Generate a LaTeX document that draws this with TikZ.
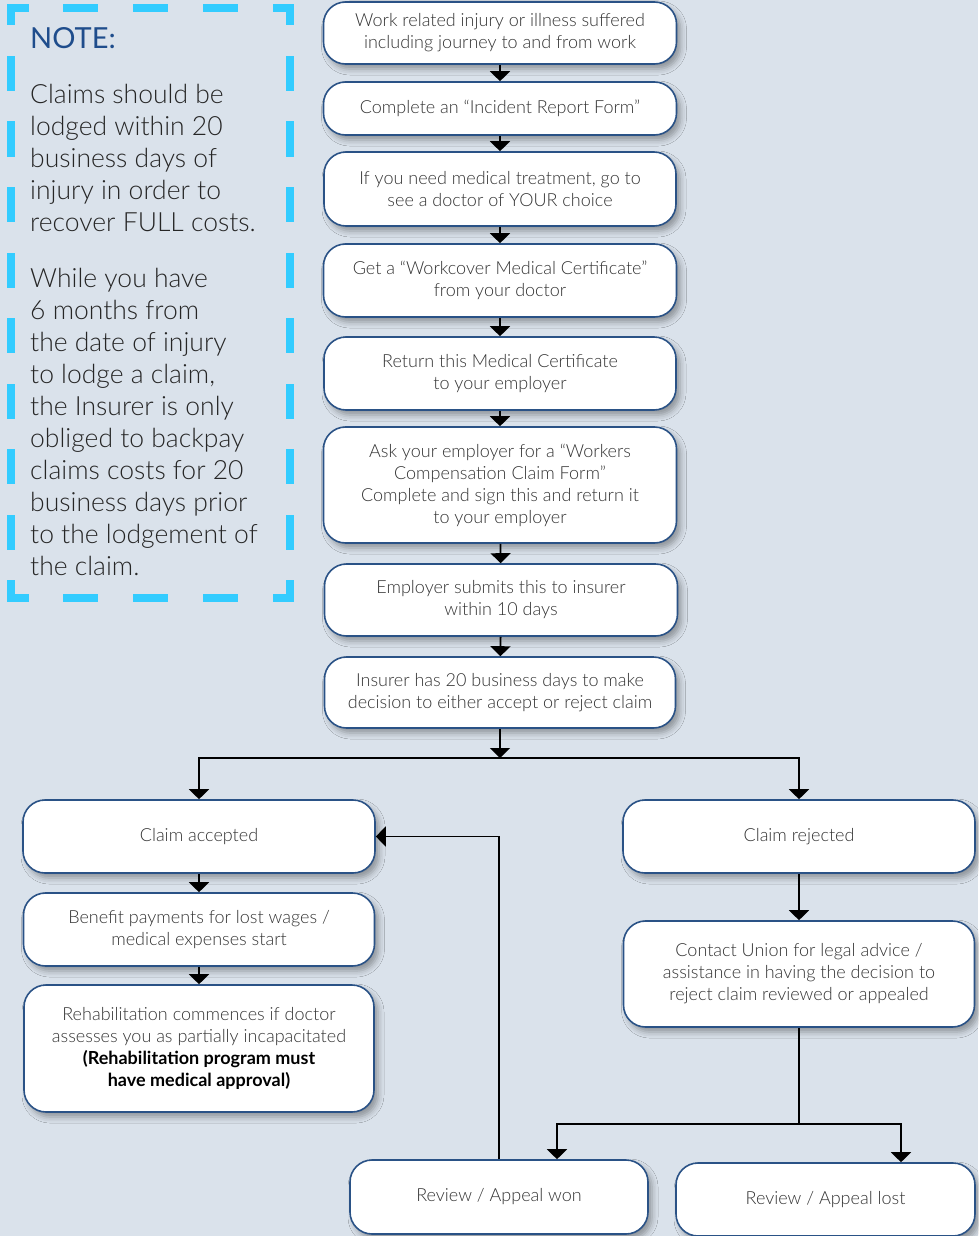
\documentclass[tikz,border=0pt]{standalone}
\usepackage{fontspec}
\setmainfont{Lato}[UprightFont=* Light,BoldFont=* Bold]
\newfontfamily\noteheadfont{Lato}
\usepackage{tikz}
\usetikzlibrary{arrows.meta,shadows.blur}
\definecolor{pagebg}{HTML}{DAE2EB}
\definecolor{boxline}{HTML}{2A5286}
\definecolor{notedash}{HTML}{33CCFF}
\definecolor{notehead}{HTML}{1F4D8C}
\definecolor{boxtext}{HTML}{333333}
\begin{document}
\begin{tikzpicture}[x=1pt,y=-1pt]
					\tikzstyle{stage}=[rectangle,rounded corners=22pt,draw=boxline,line width=1.6pt,fill=white,text=boxtext,align=center,font=\fontsize{18}{22}\selectfont,inner sep=0pt,blur shadow={shadow xshift=4pt,shadow yshift=-5pt,shadow blur radius=6pt,shadow opacity=35}]
					\tikzstyle{flow}=[line width=1.8pt,-{Triangle[width=20pt,length=10pt]}]
					\tikzstyle{flowline}=[line width=1.8pt]
					\tikzstyle{notedashes}=[draw=notedash,line width=8pt,line cap=rect]
					\tikzstyle{notetext}=[anchor=base west,inner sep=0pt,align=left,text=black!85]
					\useasboundingbox[fill=pagebg] (0,0) rectangle (978,1236);
					% note box
					\draw[notedashes,dash pattern=on 27pt off 42.75pt,dash phase=13.5pt] (11,8) -- (290,8);
					\draw[notedashes,dash pattern=on 27pt off 42.75pt,dash phase=13.5pt] (11,597.5) -- (290,597.5);
					\draw[notedashes,dash pattern=on 27pt off 38.5pt,dash phase=13.5pt] (11,8) -- (11,597.5);
					\draw[notedashes,dash pattern=on 27pt off 38.5pt,dash phase=13.5pt] (290,8) -- (290,597.5);
					\node[notetext,text=notehead,font=\noteheadfont\fontsize{29}{32}\selectfont] (notetitle) at (30,49) {NOTE:};
					% base of a multi-line node is its last line
					\node[notetext,font=\fontsize{26.5}{32}\selectfont] (noteone) at (30,231) {Claims should be\\lodged within 20\\business days of\\injury in order to\\recover FULL costs.};
					\node[notetext,font=\fontsize{26.5}{32}\selectfont] (notetwo) at (30,575) {While you have\\6 months from\\the date of injury\\to lodge a claim,\\the Insurer is only\\obliged to backpay\\claims costs for 20\\business days prior\\to the lodgement of\\the claim.};
					% main steps
					\node[stage,minimum width=353pt,minimum height=62pt] (b1) at (500,33) {Work related injury or illness suffered\\including journey to and from work};
					\node[stage,minimum width=353pt,minimum height=53pt] (b2) at (500,108.5) {Complete an ``Incident Report Form''};
					\node[stage,minimum width=352pt,minimum height=74pt] (b3) at (500,189) {If you need medical treatment, go to\\see a doctor of YOUR choice};
					\node[stage,minimum width=353pt,minimum height=73pt] (b4) at (500,280.5) {Get a ``Workcover Medical Certificate''\\from your doctor};
					\node[stage,minimum width=352pt,minimum height=73pt] (b5) at (500,373.5) {Return this Medical Certificate\\to your employer};
					\node[stage,minimum width=353pt,minimum height=116pt] (b6) at (500,485) {Ask your employer for a ``Workers\\Compensation Claim Form''\\Complete and sign this and return it\\to your employer};
					\node[stage,minimum width=353pt,minimum height=72pt] (b7) at (501,600) {Employer submits this to insurer\\within 10 days};
					\node[stage,minimum width=351pt,minimum height=71pt] (b8) at (500,692.5) {Insurer has 20 business days to make\\decision to either accept or reject claim};
					% outcomes
					\node[stage,minimum width=352pt,minimum height=73pt] (acc) at (199,836.5) {Claim accepted};
					\node[stage,minimum width=351pt,minimum height=73pt] (ben) at (199,929.5) {Benefit payments for lost wages /\\medical expenses start};
					\node[stage,minimum width=350pt,minimum height=127pt] (reh) at (199,1048.5) {Rehabilitation commences if doctor\\assesses you as partially incapacitated\\{\bfseries\color{black}(Rehabilitation program must}\\{\bfseries\color{black}have medical approval)}};
					\node[stage,minimum width=352pt,minimum height=73pt] (rej) at (799,836.5) {Claim rejected};
					\node[stage,minimum width=351pt,minimum height=106pt] (cu) at (799,974) {Contact Union for legal advice /\\assistance in having the decision to\\reject claim reviewed or appealed};
					\node[stage,minimum width=298pt,minimum height=74pt] (won) at (499,1197) {Review / Appeal won};
					\node[stage,minimum width=299pt,minimum height=73pt] (lost) at (825.5,1199.5) {Review / Appeal lost};
					\coordinate (split) at (500,758);
					\coordinate (splitcu) at (799,1124);
					\draw[flow] (b1) -- (b2);
					\draw[flow] (b2) -- (b3);
					\draw[flow] (b3) -- (b4);
					\draw[flow] (b4) -- (b5);
					\draw[flow] (b5) -- (b6);
					\draw[flow] (b6) -- (b7);
					\draw[flow] (b7) -- (b8);
					\draw[flow] (b8) -- (split);
					\draw[flow] (split) -| (acc);
					\draw[flow] (split) -| (rej);
					\draw[flow] (acc) -- (ben);
					\draw[flow] (ben) -- (reh);
					\draw[flow] (rej) -- (cu);
					\draw[flowline] (cu) -- (splitcu);
					\draw[flow] (splitcu) -| ([xshift=58pt]won.north);
					\draw[flow] (splitcu) -| ([xshift=75.5pt]lost.north);
					\draw[flow] (won) |- (acc);
					\end{tikzpicture}
\end{document}
